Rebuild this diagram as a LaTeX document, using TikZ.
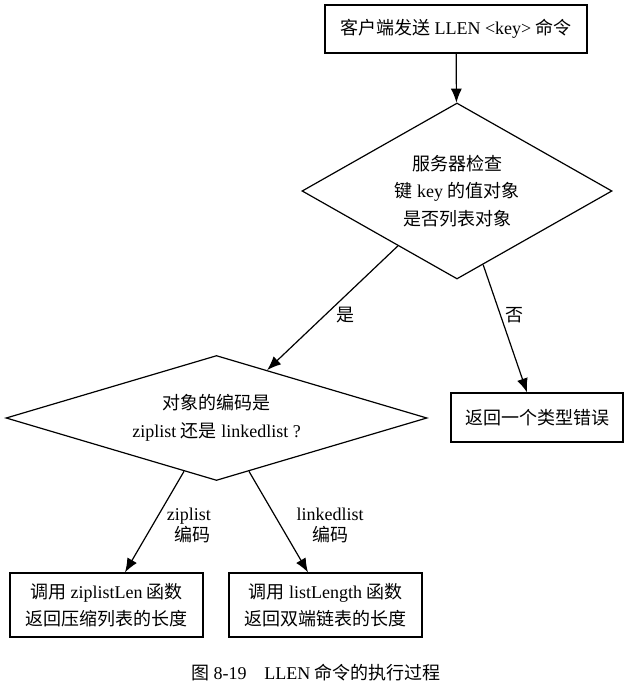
\documentclass[tikz,border=0pt]{standalone}
\usepackage{fontspec}
\setmainfont{Liberation Serif}
\newfontfamily\cjk{Noto Sans CJK SC}
\usetikzlibrary{shapes.geometric,arrows.meta,calc}
\tikzset{
  base/.style={font=\fontsize{18}{27.5}\selectfont, align=center, inner sep=0pt},
  stepbox/.style={base, draw, line width=1.2pt},
  decision/.style={base, draw, diamond, line width=1.2pt},
  conn/.style={line width=1.2pt, -{Latex[length=14pt,width=11pt]}},
  lbl/.style={font=\fontsize{18}{21}\selectfont, inner sep=0pt},
}
\begin{document}
\begin{tikzpicture}[x=1pt,y=-1pt]
\useasboundingbox (0,0) rectangle (627,700);
\node[stepbox, minimum width=262pt, minimum height=48pt] (start) at (456,29)
  {{\cjk 客户端发送} LLEN <key> {\cjk 命令}};
\node[decision, minimum width=310pt, minimum height=176pt, aspect=1.76] (d1) at (457,191)
  {{\cjk 服务器检查}\\{\cjk 键} key {\cjk 的值对象}\\{\cjk 是否列表对象}};
\node[decision, minimum width=421pt, minimum height=125pt, aspect=3.37] (d2) at (216.5,418)
  {{\cjk 对象的编码是}\\ziplist {\cjk 还是} linkedlist ?};
\node[stepbox, minimum width=172pt, minimum height=49pt] (err) at (537,417.5)
  {\cjk 返回一个类型错误};
\node[stepbox, minimum width=193pt, minimum height=64pt] (zl) at (106.5,605)
  {{\cjk 调用} ziplistLen {\cjk 函数}\\{\cjk 返回压缩列表的长度}};
\node[stepbox, minimum width=193pt, minimum height=64pt] (ll) at (325.5,605)
  {{\cjk 调用} listLength {\cjk 函数}\\{\cjk 返回双端链表的长度}};

\coordinate (yesS) at ($(d1.west)!0.62!(d1.south)$);
\coordinate (yesE) at ($(d2.north)!0.24!(d2.east)$);
\coordinate (noS) at ($(d1.south)!0.168!(d1.east)$);
\coordinate (noE) at ($(err.north)+(-10,0)$);
\coordinate (zS) at ($(d2.west)!0.846!(d2.south)$);
\coordinate (zE) at ($(zl.north)+(18.5,0)$);
\coordinate (lS) at ($(d2.south)!0.154!(d2.east)$);
\coordinate (lE) at ($(ll.north)+(-17.5,0)$);

\draw[conn] (start) -- (d1);
\draw[conn] (yesS) -- (yesE);
\draw[conn] (noS) -- (noE);
\draw[conn] (zS) -- (zE);
\draw[conn] (lS) -- (lE);

\node[lbl] (lyes) at (345,315) {\cjk 是};
\node[lbl] (lno) at (514,315) {\cjk 否};
\node[lbl, align=right, anchor=east] (lz) at (211,525) {ziplist\\{\cjk 编码}};
\node[lbl, align=center] (lk) at (330,525) {linkedlist\\{\cjk 编码}};

\node[lbl] (cap) at (316,673) {{\cjk 图} 8-19\quad LLEN {\cjk 命令的执行过程}};
\end{tikzpicture}
\end{document}
